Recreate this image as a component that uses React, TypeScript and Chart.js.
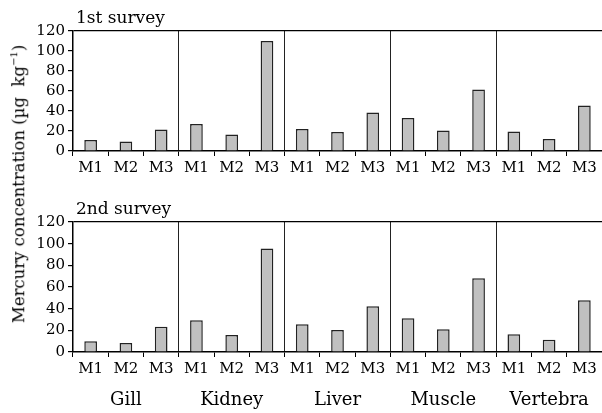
import React, { useEffect, useRef } from "react";
import { Chart, registerables } from "chart.js";

Chart.register(...registerables);

const tissues = ["Gill", "Kidney", "Liver", "Muscle", "Vertebra"];
const methods = ["M1", "M2", "M3"];
const survey1 = [11, 9.5, 21.5, 27, 16.5, 110, 22, 19, 38.5, 33, 20.5, 61.5, 19.5, 12, 45.5];
const survey2 = [10, 8.3, 23.3, 29.4, 15.6, 95.5, 25.7, 20.2, 42.2, 31.2, 21.1, 68, 16.5, 11.3, 47.8];
const yTicks = [0, 20, 40, 60, 80, 100, 120];
const panelTitles = ["1st survey", "2nd survey"];

const FONT = "'DejaVu Serif', serif";
const labels = tissues.flatMap(() => methods);

function makeChart(
  canvas: HTMLCanvasElement,
  values: number[],
  title: string,
  padTop: number,
  xHeight: number,
  showTissues: boolean
) {
  const overlay = {
    id: "overlay",
    afterDraw(chart: any) {
      const { ctx, chartArea, scales } = chart;
      ctx.save();
      ctx.fillStyle = "#000";
      ctx.font = `17px ${FONT}`;
      ctx.textAlign = "left";
      ctx.textBaseline = "bottom";
      ctx.fillText(title, chartArea.left + 3, chartArea.top - 4);
      if (showTissues) {
        ctx.font = `18px ${FONT}`;
        ctx.textAlign = "center";
        ctx.textBaseline = "middle";
        tissues.forEach((t, i) => {
          const x = scales.x.getPixelForValue(i * 3 + 1);
          ctx.fillText(t, x, chartArea.bottom + 48);
        });
      }
      ctx.restore();
    },
  };

  return new Chart(canvas, {
    type: "bar",
    data: {
      labels,
      datasets: [
        {
          data: values,
          backgroundColor: "#c0c0c0",
          borderColor: "#222",
          borderWidth: 1.5,
          barPercentage: 0.36,
          categoryPercentage: 1,
        },
      ],
    },
    options: {
      responsive: false,
      animation: false,
      layout: { padding: { top: padTop, left: 0, right: 0, bottom: 0 } },
      plugins: { legend: { display: false }, tooltip: { enabled: false }, title: { display: false } },
      scales: {
        x: {
          offset: true,
          grid: {
            offset: true,
            drawOnChartArea: true,
            color: (c: any) => (c.index % 3 === 0 && c.index > 0 && c.index < 15 ? "#222" : "rgba(0,0,0,0)"),
            tickColor: "#000",
            tickLength: 5,
            lineWidth: 1,
          },
          border: { color: "#000", width: 1.5 },
          ticks: { color: "#000", font: { family: FONT, size: 15 }, padding: 3, maxRotation: 0, autoSkip: false },
          afterFit: (s: any) => {
            s.height = xHeight;
          },
        },
        y: {
          min: yTicks[0],
          max: yTicks[yTicks.length - 1],
          afterBuildTicks: (s: any) => {
            s.ticks = yTicks.map((v) => ({ value: v }));
          },
          grid: {
            drawOnChartArea: true,
            color: (c: any) => (c.tick && c.tick.value === 120 ? "#000" : "rgba(0,0,0,0)"),
            tickColor: "#000",
            tickLength: 5,
            lineWidth: 1.2,
          },
          border: { color: "#000", width: 1.5 },
          ticks: { color: "#000", font: { family: FONT, size: 15 }, padding: 3, autoSkip: false },
          afterFit: (s: any) => {
            s.width = 73;
          },
        },
      },
    },
    plugins: [overlay],
  });
}

export default function App() {
  const ref1 = useRef<HTMLCanvasElement>(null);
  const ref2 = useRef<HTMLCanvasElement>(null);

  useEffect(() => {
    const c1 = makeChart(ref1.current!, survey1, panelTitles[0], 31, 29, false);
    const c2 = makeChart(ref2.current!, survey2, panelTitles[1], 42, 61, true);
    return () => {
      c1.destroy();
      c2.destroy();
    };
  }, []);

  return (
    <div style={{ position: "absolute", left: 0, top: 0, width: 602, height: 413, background: "#fff", overflow: "hidden" }}>
      <canvas ref={ref1} width={602} height={180} style={{ position: "absolute", left: 0, top: 0 }} />
      <canvas ref={ref2} width={602} height={233} style={{ position: "absolute", left: 0, top: 180 }} />
      <div
        style={{
          position: "absolute",
          left: 18,
          top: 184,
          transform: "translate(-50%, -50%) rotate(-90deg)",
          whiteSpace: "nowrap",
          fontFamily: FONT,
          fontSize: 16.5,
          color: "#000",
        }}
      >
        Mercury concentration (µg&nbsp;&nbsp;kg<sup style={{ fontSize: 10 }}>−1</sup>)
      </div>
    </div>
  );
}
